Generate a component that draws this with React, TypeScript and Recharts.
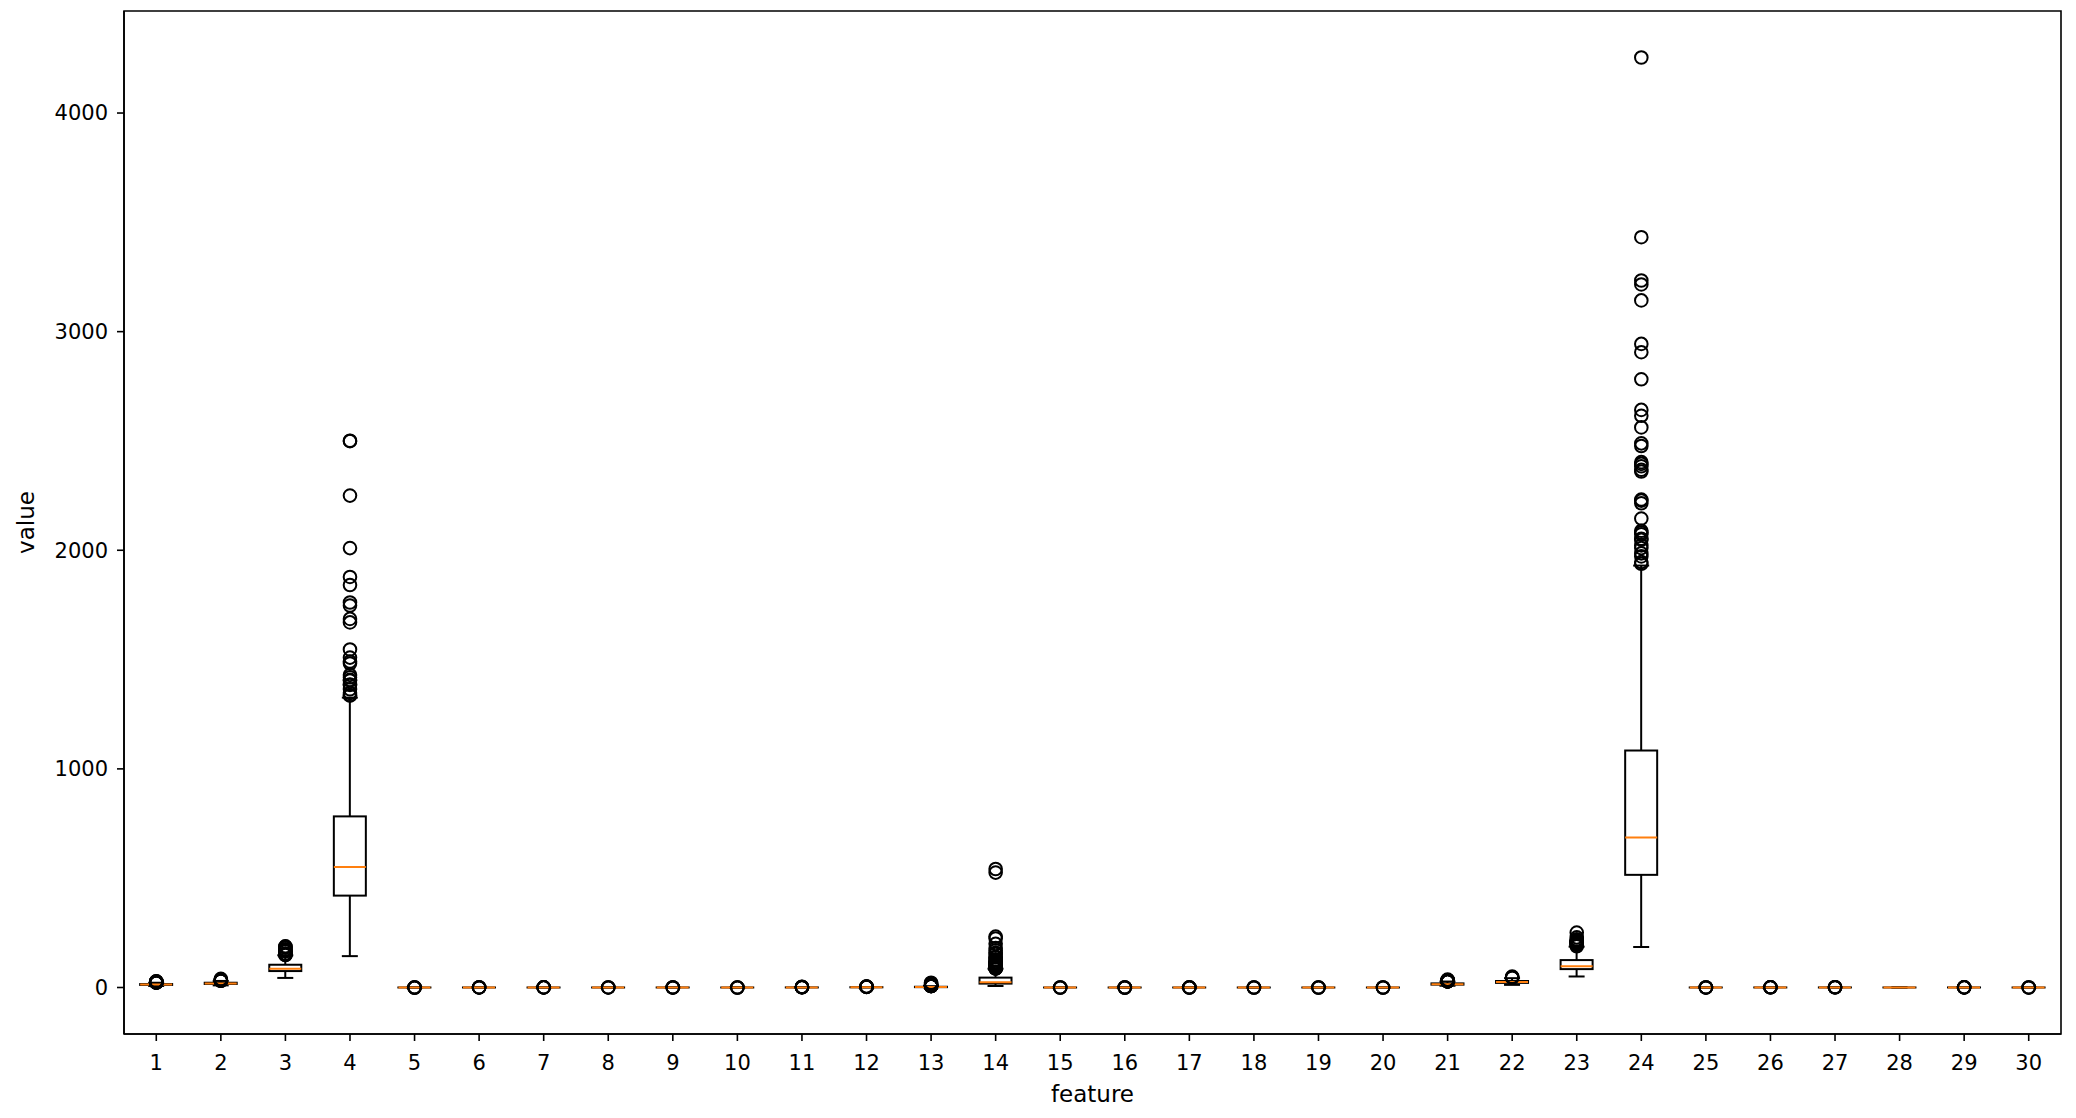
import { ComposedChart, Bar, Scatter, XAxis, YAxis, ReferenceArea } from "recharts";

// box statistics per feature
const features = Array.from({ length: 30 }, (_, i) => i + 1);
const whiskerLow = [6.98, 9.71, 43.79, 143.5, 0.058, 0.019, 0, 0, 0.117, 0.05, 0.112, 0.36, 0.757, 6.8, 0.0017, 0.0023, 0, 0, 0.0079, 0.0009, 7.93, 12.02, 50.41, 185.2, 0.081, 0.027, 0, 0, 0.157, 0.055];
const q1 = [11.7, 16.17, 75.17, 420.3, 0.086, 0.065, 0.03, 0.02, 0.162, 0.058, 0.232, 0.834, 1.606, 17.85, 0.0052, 0.013, 0.015, 0.0076, 0.015, 0.0022, 13.01, 21.08, 84.11, 515.3, 0.117, 0.147, 0.115, 0.065, 0.25, 0.071];
const medians = [13.37, 18.84, 86.24, 551.1, 0.096, 0.093, 0.062, 0.034, 0.179, 0.062, 0.324, 1.108, 2.287, 24.53, 0.0064, 0.02, 0.026, 0.011, 0.019, 0.0032, 14.97, 25.41, 97.66, 686.5, 0.131, 0.212, 0.227, 0.1, 0.282, 0.08];
const q3 = [15.78, 21.8, 104.1, 782.7, 0.105, 0.13, 0.131, 0.074, 0.196, 0.066, 0.479, 1.474, 3.357, 45.19, 0.0081, 0.032, 0.042, 0.0147, 0.023, 0.0046, 18.79, 29.72, 125.4, 1084, 0.146, 0.339, 0.383, 0.161, 0.318, 0.092];
const whiskerHigh = [21.75, 29.97, 147.3, 1326, 0.133, 0.228, 0.281, 0.156, 0.246, 0.079, 0.846, 2.426, 5.865, 86, 0.0126, 0.061, 0.082, 0.025, 0.035, 0.0079, 27.3, 42.65, 186.8, 1930, 0.188, 0.625, 0.789, 0.291, 0.415, 0.122];
const outliers: number[][] = [
  [28.11, 27.42, 27.22, 25.73, 25.22, 24.63, 24.25, 23.51, 23.29, 23.27, 23.21, 23.09, 22.27, 22.01],
  [39.28, 33.81, 33.56, 32.47, 31.12, 30.72, 30.62],
  [188.5, 186.9, 182.1, 174.2, 171.5, 166.2, 165.5, 155.1, 153.5, 152.8, 152.1, 149.3, 148.7],
  [2501, 2499, 2250, 2010, 1878, 1841, 1761, 1747, 1686, 1670, 1546, 1509, 1491, 1482, 1430, 1419, 1407, 1404, 1386, 1384, 1364, 1347, 1338, 1335],
  [0.163, 0.145, 0.143, 0.053],
  [0.345, 0.287, 0.284, 0.283],
  [0.427, 0.426, 0.411, 0.375],
  [0.201, 0.191, 0.188],
  [0.304, 0.291, 0.274, 0.106],
  [0.097, 0.096, 0.093],
  [2.873, 2.547, 1.509, 1.37, 1.296, 1.214],
  [4.885, 3.896, 3.647, 3.568, 2.91, 2.878],
  [21.98, 18.65, 11.07, 10.12, 9.807, 8.83, 8.649, 8.589, 8.419, 7.8, 7.733, 7.382, 7.276, 7.029, 6.971, 6.487],
  [542.2, 525.6, 233, 224.1, 199.7, 180.2, 170.4, 158.7, 153.1, 139.9, 138.5, 128.7, 124.4, 116.4, 116.2, 115.2, 111.7, 109.9, 106, 104.9, 103.6, 102.6, 100.4, 99.52, 98.81, 97.85, 96.05, 94.44, 94.03, 93.99, 93.91, 93.54, 90.94, 90.47, 89.74, 88.25, 87.87, 87.78, 87.17, 86.6],
  [0.031, 0.023, 0.022],
  [0.135, 0.106, 0.098, 0.096],
  [0.396, 0.304, 0.154, 0.144],
  [0.053, 0.041, 0.039],
  [0.079, 0.061, 0.06],
  [0.03, 0.023, 0.018],
  [36.04, 33.13, 33.12, 32.49, 31.01, 30.79, 30.75, 30.67, 30, 29.92, 29.17, 28.4, 28.19, 28.11, 28.01, 27.9, 27.66],
  [49.54, 47.16, 45.41, 44.87],
  [251.2, 229.3, 220.8, 214, 211.7, 211.5, 206.8, 206, 205.7, 205.4, 199.5, 195.9, 195, 188.5],
  [4254, 3432, 3234, 3216, 3143, 2944, 2906, 2782, 2642, 2615, 2562, 2489, 2477, 2403, 2395, 2384, 2368, 2360, 2232, 2227, 2215, 2145, 2089, 2081, 2073, 2053, 2048, 2022, 2010, 1986, 1972, 1946, 1938],
  [0.223, 0.218, 0.21, 0.071],
  [1.058, 0.938, 0.933, 0.868],
  [1.252, 1.17, 1.105, 0.961],
  [],
  [0.664, 0.577, 0.556, 0.544],
  [0.208, 0.173, 0.149],
];
const yTicks = [0, 1000, 2000, 3000, 4000];

const yDomain = [-212.7, 4466.7];
const font = "DejaVu Sans";

const boxData = features.map((f, i) => ({
  feature: f,
  lo: whiskerLow[i],
  q1: q1[i],
  med: medians[i],
  q3: q3[i],
  hi: whiskerHigh[i],
}));

const flierData = features.flatMap((f, i) => outliers[i].map((v) => ({ feature: f, value: v })));

// draws whiskers, caps, box and median from the bar's whisker range
const BoxShape = (props: any) => {
  const { x, y, width, height, payload } = props;
  const top = Math.min(y, y + height);
  const bottom = Math.max(y, y + height);
  const span = payload.hi - payload.lo;
  const py = (v: number) => top + ((bottom - top) * (payload.hi - v)) / span;
  const cx = x + width / 2;
  const cap = width / 4;
  return (
    <g>
      <line x1={cx} x2={cx} y1={py(payload.hi)} y2={py(payload.q3)} stroke="#000" strokeWidth={2} />
      <line x1={cx} x2={cx} y1={py(payload.q1)} y2={py(payload.lo)} stroke="#000" strokeWidth={2} />
      <line x1={cx - cap} x2={cx + cap} y1={py(payload.hi)} y2={py(payload.hi)} stroke="#000" strokeWidth={2} />
      <line x1={cx - cap} x2={cx + cap} y1={py(payload.lo)} y2={py(payload.lo)} stroke="#000" strokeWidth={2} />
      <rect x={x} y={py(payload.q3)} width={width} height={py(payload.q1) - py(payload.q3)} fill="none" stroke="#000" strokeWidth={2} />
      <line x1={x} x2={x + width} y1={py(payload.med)} y2={py(payload.med)} stroke="#ff7f0e" strokeWidth={2} />
    </g>
  );
};

const Flier = (props: any) => (
  <circle cx={props.cx} cy={props.cy} r={6.3} fill="none" stroke="#000" strokeWidth={2} />
);

export default function App() {
  return (
    <div style={{ position: "absolute", left: 0, top: 0 }}>
      <ComposedChart
        width={2076}
        height={1118}
        data={boxData}
        margin={{ top: 11, right: 15, bottom: 0, left: 0 }}
        barCategoryGap="25%"
      >
        <ReferenceArea
          x1={0.5}
          x2={30.5}
          y1={yDomain[0]}
          y2={yDomain[1]}
          fill="none"
          stroke="#000"
          strokeWidth={1.6}
          ifOverflow="visible"
        />
        <XAxis
          type="number"
          dataKey="feature"
          domain={[0.5, 30.5]}
          ticks={features}
          interval={0}
          allowDataOverflow
          height={84}
          tickSize={7}
          tickMargin={14}
          axisLine={{ stroke: "#000", strokeWidth: 1.6 }}
          tickLine={{ stroke: "#000", strokeWidth: 1.6 }}
          tick={{ fill: "#000", fontSize: 21, fontFamily: font }}
          label={{
            content: ({ viewBox }: any) => (
              <text x={viewBox.x + viewBox.width / 2} y={viewBox.y + 68} textAnchor="middle" fontSize={23} fontFamily={font} fill="#000">
                feature
              </text>
            ),
          }}
        />
        <YAxis
          type="number"
          domain={yDomain}
          ticks={yTicks}
          allowDataOverflow
          width={124}
          tickSize={7}
          tickMargin={9}
          axisLine={{ stroke: "#000", strokeWidth: 1.6 }}
          tickLine={{ stroke: "#000", strokeWidth: 1.6 }}
          tick={{ fill: "#000", fontSize: 21, fontFamily: font }}
          label={{
            content: ({ viewBox }: any) => {
              const lx = viewBox.x + 26;
              const ly = viewBox.y + viewBox.height / 2;
              return (
                <text x={lx} y={ly} transform={`rotate(-90, ${lx}, ${ly})`} textAnchor="middle" dominantBaseline="central" fontSize={23} fontFamily={font} fill="#000">
                  value
                </text>
              );
            },
          }}
        />
        <Bar dataKey={(d: any) => [d.lo, d.hi]} shape={BoxShape} isAnimationActive={false} />
        <Scatter data={flierData} dataKey="value" shape={Flier} isAnimationActive={false} />
      </ComposedChart>
    </div>
  );
}
